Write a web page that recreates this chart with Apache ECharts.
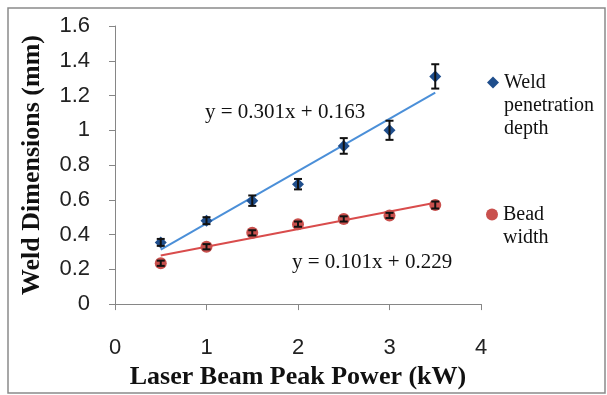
<!DOCTYPE html>
<html>
<head>
<meta charset="utf-8">
<script src="https://cdn.jsdelivr.net/npm/echarts@6/dist/echarts.min.js"></script>
<style>
  html, body { margin: 0; padding: 0; background: #fff; }
  #main { width: 607px; height: 395px; }
</style>
</head>
<body>
<div id="main"></div>
<script>
// laser peak power (kW)
const power = [0.5, 1, 1.5, 2, 2.5, 3, 3.5];
// weld penetration depth (mm) and its error
const depth = [0.355, 0.48, 0.595, 0.69, 0.91, 1.0, 1.31];
const depthErr = [0.02, 0.02, 0.03, 0.03, 0.045, 0.055, 0.07];
// bead width (mm) and its error
const bead = [0.235, 0.33, 0.41, 0.46, 0.49, 0.51, 0.57];
const beadErr = [0.015, 0.015, 0.015, 0.015, 0.015, 0.015, 0.02];
// trend line end points
const trendX = [0.5, 3.5];
const depthTrend = [0.314, 1.217];
const beadTrend = [0.28, 0.583];
const yTicks = [0, 0.2, 0.4, 0.6, 0.8, 1, 1.2, 1.4, 1.6];
const xTicks = [0, 1, 2, 3, 4];

const myChart = echarts.init(document.getElementById('main'));

const serif = '"Liberation Serif", "Times New Roman", serif';
const sans = '"Liberation Sans", Arial, sans-serif';
const axisColor = '#868686';

function pairs(xs, ys) {
  return xs.map((x, i) => [x, ys[i]]);
}
function errData(xs, ys, es) {
  return xs.map((x, i) => [x, ys[i] - es[i], ys[i] + es[i]]);
}
function errorBars(data) {
  return {
    type: 'custom',
    z: 5,
    silent: true,
    data: data,
    renderItem: (params, api) => {
      const lo = api.coord([api.value(0), api.value(1)]);
      const hi = api.coord([api.value(0), api.value(2)]);
      const w = 4;
      const style = { stroke: '#111', lineWidth: 2 };
      return {
        type: 'group',
        children: [
          { type: 'line', shape: { x1: lo[0], y1: lo[1], x2: hi[0], y2: hi[1] }, style },
          { type: 'line', shape: { x1: lo[0] - w, y1: lo[1], x2: lo[0] + w, y2: lo[1] }, style },
          { type: 'line', shape: { x1: hi[0] - w, y1: hi[1], x2: hi[0] + w, y2: hi[1] }, style }
        ]
      };
    }
  };
}

// blank lines in front keep the icon level with the first line of text
const legendText = { fontFamily: serif, fontSize: 20, color: '#111', lineHeight: 23 };

const option = {
  backgroundColor: '#fff',
  animation: false,
  grid: { left: 115, right: 126, top: 26, bottom: 88 },
  xAxis: {
    type: 'value',
    min: xTicks[0],
    max: xTicks[xTicks.length - 1],
    interval: 1,
    name: 'Laser Beam Peak Power (kW)',
    nameLocation: 'middle',
    nameGap: 58,
    nameTextStyle: { fontFamily: serif, fontWeight: 'bold', fontSize: 26, color: '#111' },
    axisLine: { lineStyle: { color: axisColor } },
    axisTick: { show: true, length: 6, lineStyle: { color: axisColor } },
    axisLabel: { margin: 33, fontFamily: sans, fontSize: 22, color: '#222' },
    splitLine: { show: false }
  },
  yAxis: {
    type: 'value',
    min: yTicks[0],
    max: yTicks[yTicks.length - 1],
    interval: 0.2,
    name: 'Weld Dimensions (mm)',
    nameLocation: 'middle',
    nameGap: 70,
    nameTextStyle: { fontFamily: serif, fontWeight: 'bold', fontSize: 26, color: '#111' },
    axisLine: { show: true, lineStyle: { color: axisColor } },
    axisTick: { show: true, length: 6, lineStyle: { color: axisColor } },
    axisLabel: { margin: 25, fontFamily: sans, fontSize: 22, color: '#222' },
    splitLine: { show: false }
  },
  legend: [
    {
      orient: 'vertical',
      left: 482,
      top: 20,
      itemWidth: 12,
      itemHeight: 12,
      itemGap: 0,
      data: [{ name: 'Weld penetration depth', icon: 'diamond' }],
      formatter: () => ' \n \nWeld\npenetration\ndepth',
      textStyle: legendText
    },
    {
      orient: 'vertical',
      left: 481,
      top: 175,
      itemWidth: 12,
      itemHeight: 12,
      itemGap: 0,
      data: [{ name: 'Bead width', icon: 'circle' }],
      formatter: () => ' \nBead\nwidth',
      textStyle: legendText
    }
  ],
  graphic: [
    {
      type: 'rect',
      shape: { x: 8, y: 8, width: 597, height: 385 },
      style: { fill: 'none', stroke: '#8a8a8a', lineWidth: 1.5 },
      z: 100
    },
    {
      type: 'text',
      left: 205,
      top: 102,
      style: { text: 'y = 0.301x + 0.163', font: '21px ' + serif, fill: '#111' }
    },
    {
      type: 'text',
      left: 292,
      top: 252,
      style: { text: 'y = 0.101x + 0.229', font: '21px ' + serif, fill: '#111' }
    }
  ],
  series: [
    {
      type: 'line',
      name: 'depth trend',
      data: pairs(trendX, depthTrend),
      symbol: 'none',
      lineStyle: { color: '#4b8fd8', width: 2 },
      z: 2,
      silent: true
    },
    {
      type: 'line',
      name: 'bead trend',
      data: pairs(trendX, beadTrend),
      symbol: 'none',
      lineStyle: { color: '#d94c4c', width: 2 },
      z: 2,
      silent: true
    },
    {
      type: 'scatter',
      name: 'Weld penetration depth',
      data: pairs(power, depth),
      symbol: 'diamond',
      symbolSize: 12,
      itemStyle: { color: '#1f4e8c', opacity: 1 },
      z: 3
    },
    {
      type: 'scatter',
      name: 'Bead width',
      data: pairs(power, bead),
      symbol: 'circle',
      symbolSize: 12,
      itemStyle: { color: '#c9504d', opacity: 1 },
      z: 3
    },
    errorBars(errData(power, depth, depthErr)),
    errorBars(errData(power, bead, beadErr))
  ]
};

myChart.setOption(option);
</script>
</body>
</html>
